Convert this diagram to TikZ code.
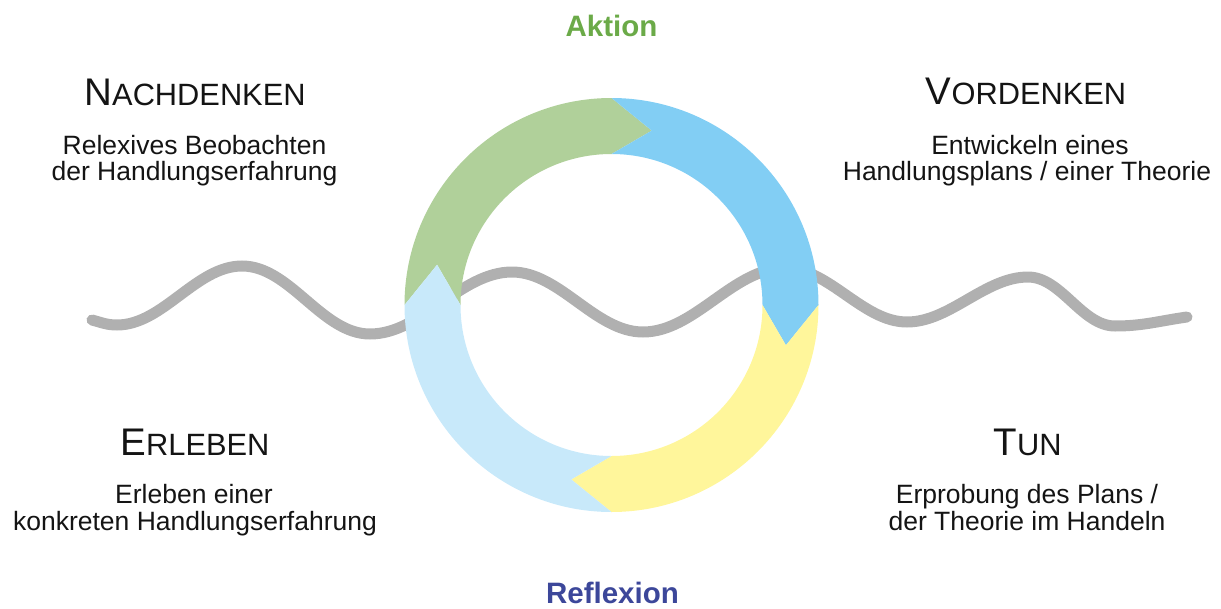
\documentclass[tikz,border=0pt]{standalone}
\usepackage{fontspec}
\setmainfont{Liberation Sans}
\usetikzlibrary{calc}
\definecolor{ringgreen}{HTML}{B0D09A}
\definecolor{ringblue}{HTML}{82CEF4}
\definecolor{ringyellow}{HTML}{FFF69B}
\definecolor{ringlight}{HTML}{C8E9FA}
\definecolor{wavegray}{HTML}{B0B0B0}
\definecolor{txt}{HTML}{141414}
\definecolor{aktgreen}{HTML}{6BAA48}
\definecolor{refblue}{HTML}{3C479A}
\newcommand\ringseg[2]{%
  \fill[#1] ($(c)+(#2:207)$) arc[start angle=#2, end angle=#2-90, radius=207pt]
    -- ($(c)+(#2-103:179)$) -- ($(c)+(#2-90:151)$)
    arc[start angle=#2-90, end angle=#2, radius=151pt]
    -- ($(c)+(#2-13:179)$) -- cycle;}
\newcommand\initcap[1]{{\fontsize{38.5}{40}\selectfont #1}}
\begin{document}
\begin{tikzpicture}[x=1pt,y=1pt,
  hd/.style={anchor=base, inner sep=0pt, text=txt, font=\fontsize{30.8}{36}\selectfont},
  sub/.style={anchor=base, inner sep=0pt, text=txt, font=\fontsize{26.5}{30}\selectfont},
  pole/.style={anchor=base, inner sep=0pt, font=\fontsize{29.5}{34}\selectfont\bfseries},
  wave/.style={draw=wavegray, line width=11pt, line cap=round, looseness=0.85}]
\useasboundingbox (0,0) rectangle (1221,-608);
\coordinate (c) at (611.5,-305);

% wave (behind the ring)
\draw[wave] (92,-320) to[out=-15,in=180,looseness=1] (117,-325)
  to[out=0,in=180] (242,-266)
  to[out=0,in=180] (370,-334)
  to[out=0,in=180] (512,-272)
  to[out=0,in=180] (643,-332)
  to[out=0,in=180] (785,-268)
  to[out=0,in=180] (907,-322)
  to[out=0,in=180] (1028,-277)
  to[out=0,in=180] (1115,-326)
  to[out=0,in=188,looseness=1] (1187,-317);

% ring of four arrows
\ringseg{ringgreen}{180}
\ringseg{ringblue}{90}
\ringseg{ringyellow}{0}
\ringseg{ringlight}{-90}

% poles
\node[pole, text=aktgreen] (aktion) at (611.5,-36) {Aktion};
\node[pole, text=refblue] (reflexion) at (612.5,-603.5) {Reflexion};

% Nachdenken
\node[hd] (nach) at (195,-105) {\initcap{N}ACHDENKEN};
\node[sub] (nach1) at (194.5,-154) {Relexives Beobachten};
\node[sub] (nach2) at (194.5,-180) {der Handlungserfahrung};

% Vordenken
\node[hd] (vor) at (1026,-104) {\initcap{V}ORDENKEN};
\node[sub] (vor1) at (1030,-154) {Entwickeln eines};
\node[sub] (vor2) at (1027,-180) {Handlungsplans / einer Theorie};

% Erleben
\node[hd] (erl) at (195,-455) {\initcap{E}RLEBEN};
\node[sub] (erl1) at (194,-503) {Erleben einer};
\node[sub] (erl2) at (195,-530) {konkreten Handlungserfahrung};

% Tun
\node[hd] (tun) at (1027.5,-455) {\initcap{T}UN};
\node[sub] (tun1) at (1027,-503) {Erprobung des Plans /};
\node[sub] (tun2) at (1027,-530) {der Theorie im Handeln};
\end{tikzpicture}
\end{document}
